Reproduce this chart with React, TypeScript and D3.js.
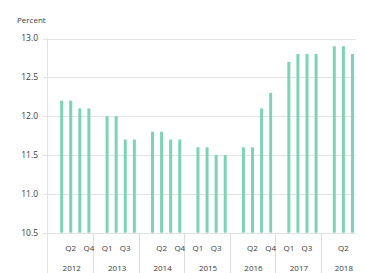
import React, { useEffect, useRef } from 'react';
import * as d3 from 'd3';

const YEARS = ['2012', '2013', '2014', '2015', '2016', '2017', '2018'];
const QUARTERS = ['Q1', 'Q2', 'Q3', 'Q4'];
const VALUES: number[][] = [
  [12.2, 12.2, 12.1, 12.1],
  [12.0, 12.0, 11.7, 11.7],
  [11.8, 11.8, 11.7, 11.7],
  [11.6, 11.6, 11.5, 11.5],
  [11.6, 11.6, 12.1, 12.3],
  [12.7, 12.8, 12.8, 12.8],
  [12.9, 12.9, 12.8],
];
const Y_TICKS = [10.5, 11.0, 11.5, 12.0, 12.5, 13.0];

const W = 365;
const H = 273;

interface Slot {
  key: string;
  year: string;
  quarter: string | null;
  value: number | null;
}

export default function App() {
  const ref = useRef<SVGSVGElement>(null);

  useEffect(() => {
    if (!ref.current) return;
    const svg = d3.select(ref.current);
    svg.selectAll('*').remove();

    // each year gets an empty slot in front of its quarters
    const slots: Slot[] = [];
    YEARS.forEach((yr, i) => {
      slots.push({ key: `${yr}-gap`, year: yr, quarter: null, value: null });
      VALUES[i].forEach((v, j) => {
        slots.push({ key: `${yr}-${QUARTERS[j]}`, year: yr, quarter: QUARTERS[j], value: v });
      });
    });

    const x = d3.scaleBand<string>().domain(slots.map((s) => s.key)).range([48, 357]);
    const y = d3.scaleLinear().domain([10.5, 13]).range([232.7, 38.5]);
    const font = '"Open Sans", "DejaVu Sans", sans-serif';

    // gridlines
    svg.append('g')
      .selectAll('line')
      .data(Y_TICKS)
      .join('line')
      .attr('x1', 43)
      .attr('x2', 356)
      .attr('y1', (d) => Math.round(y(d)) + 0.5)
      .attr('y2', (d) => Math.round(y(d)) + 0.5)
      .attr('stroke', '#e2e2e2')
      .attr('stroke-width', 1);

    svg.append('g')
      .selectAll('text')
      .data(Y_TICKS)
      .join('text')
      .attr('x', 38)
      .attr('y', (d) => y(d))
      .attr('dy', '0.35em')
      .attr('text-anchor', 'end')
      .attr('font-family', font)
      .attr('font-size', 8.5)
      .attr('fill', '#3a3a3a')
      .text((d) => d.toFixed(1));

    svg.append('text')
      .attr('x', 17)
      .attr('y', 23)
      .attr('font-family', font)
      .attr('font-size', 8)
      .attr('fill', '#3a3a3a')
      .text('Percent');

    // axis left line
    svg.append('line')
      .attr('x1', 47.5).attr('x2', 47.5)
      .attr('y1', 38).attr('y2', H)
      .attr('stroke', '#e2e2e2');

    // year separators in the category box
    const yearStarts = YEARS.map((yr) => x(`${yr}-gap`)!);
    svg.append('g')
      .selectAll('line')
      .data(yearStarts.slice(1))
      .join('line')
      .attr('x1', (d) => Math.round(d) + 0.5)
      .attr('x2', (d) => Math.round(d) + 0.5)
      .attr('y1', 233)
      .attr('y2', H)
      .attr('stroke', '#dddddd');

    // bars
    const bw = 3;
    svg.append('g')
      .selectAll('rect')
      .data(slots.filter((s) => s.value !== null))
      .join('rect')
      .attr('x', (d) => x(d.key)! + x.bandwidth() / 2 - bw / 2)
      .attr('width', bw)
      .attr('y', (d) => y(d.value!))
      .attr('height', (d) => y(10.5) - y(d.value!))
      .attr('fill', '#7dd3b4');

    // quarter labels on every other slot
    svg.append('g')
      .selectAll('text')
      .data(slots.filter((_, i) => i % 2 === 0 && slots[i].quarter))
      .join('text')
      .attr('x', (d) => x(d.key)! + x.bandwidth() / 2)
      .attr('y', 251)
      .attr('text-anchor', 'middle')
      .attr('font-family', font)
      .attr('font-size', 8)
      .attr('fill', '#3a3a3a')
      .text((d) => d.quarter!);

    // year labels
    const yearEnds = [...yearStarts.slice(1), W];
    svg.append('g')
      .selectAll('text')
      .data(YEARS)
      .join('text')
      .attr('x', (_, i) => (yearStarts[i] + yearEnds[i]) / 2 + 1)
      .attr('y', 271)
      .attr('text-anchor', 'middle')
      .attr('font-family', font)
      .attr('font-size', 8)
      .attr('fill', '#3a3a3a')
      .text((d) => d);
  }, []);

  return (
    <svg
      ref={ref}
      width={W}
      height={H}
      style={{ position: 'absolute', left: 0, top: 0, background: '#fff' }}
    />
  );
}
